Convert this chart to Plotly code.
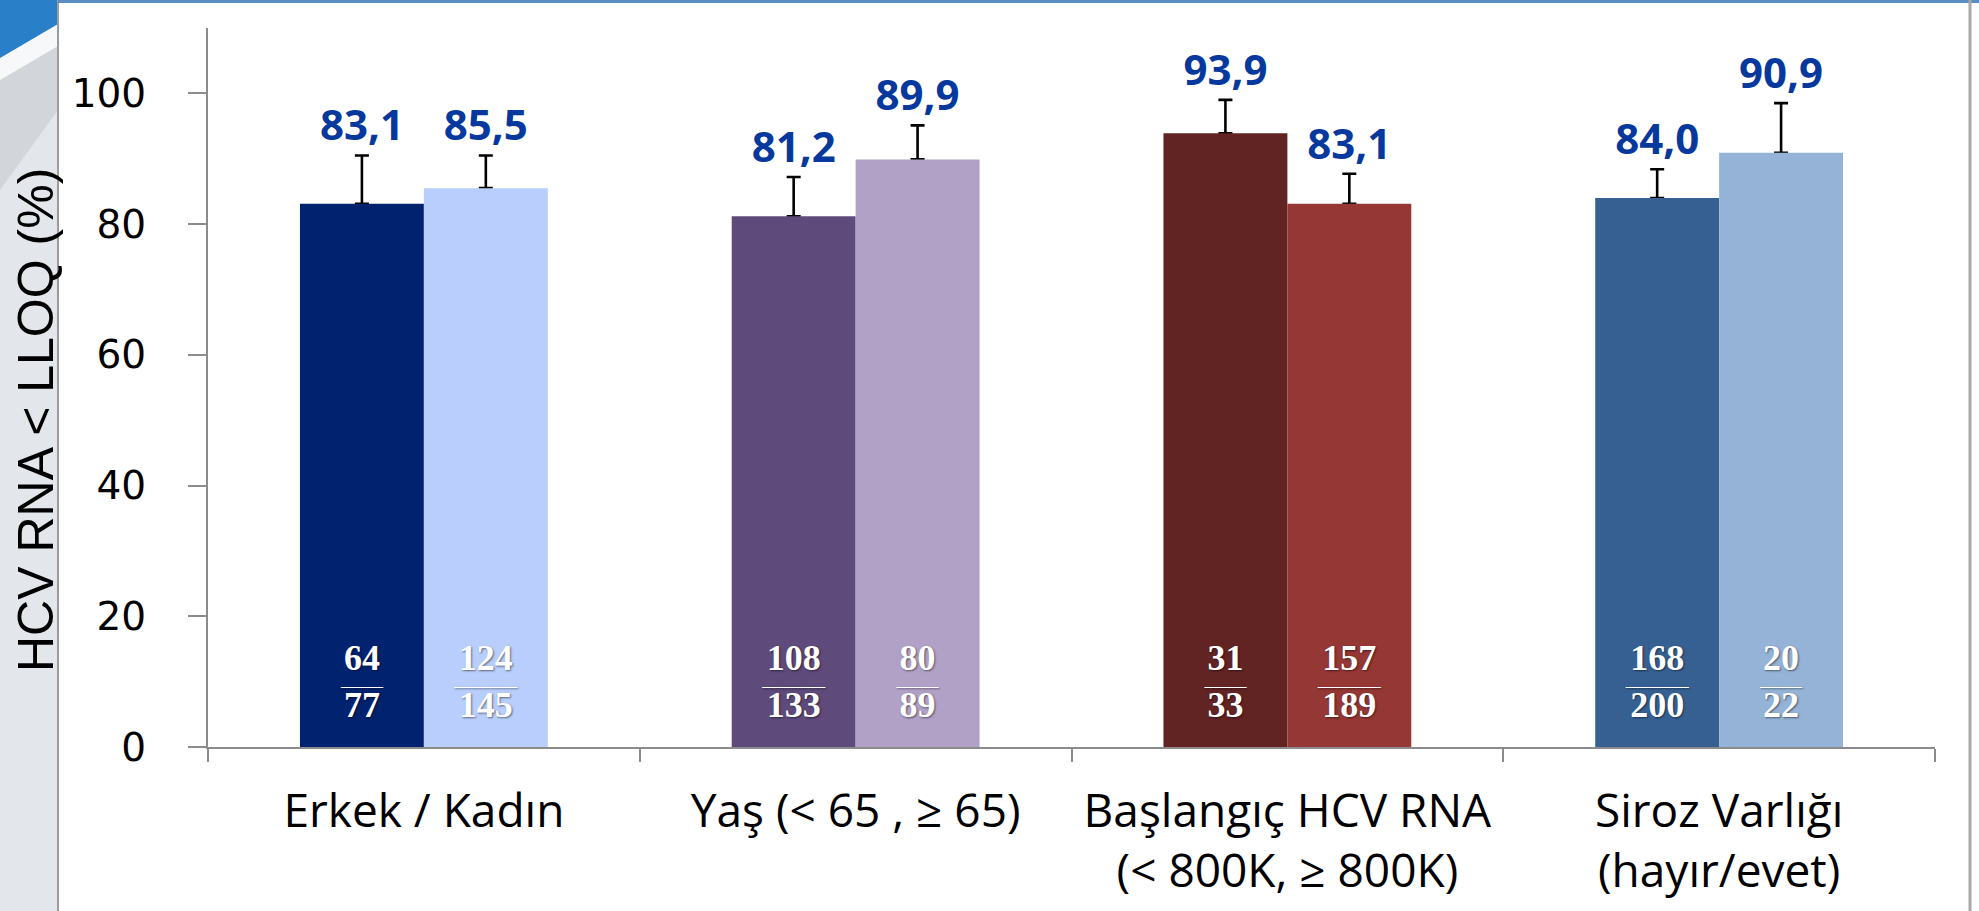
"""Bar chart: HCV RNA < LLOQ (%) by subgroup, with error bars and n/N counts."""

import plotly.graph_objects as go

# data
categories = [
    "Erkek / Kadın",
    "Yaş (&lt; 65 , ≥ 65)",
    "Başlangıç HCV RNA<br>(&lt; 800K, ≥ 800K)",
    "Siroz Varlığı<br>(hayır/evet)",
]
first_values = [83.1, 81.2, 93.9, 84.0]
second_values = [85.5, 89.9, 83.1, 90.9]
first_errors = [7.4, 6.0, 5.1, 4.4]
second_errors = [5.0, 5.2, 4.6, 7.6]
first_responders = [64, 108, 31, 168]
first_totals = [77, 133, 33, 200]
second_responders = [124, 80, 157, 20]
second_totals = [145, 89, 189, 22]
first_colors = ["#00226f", "#5e4a7b", "#622323", "#376092"]
second_colors = ["#b9cefc", "#b2a1c7", "#953735", "#95b3d7"]
y_ticks = [0, 20, 40, 60, 80, 100]

# canvas / plot area
W, H = 1979, 911
L, R, T, B = 208, 44, 28, 164
PW, PH = W - L - R, H - T - B

LABEL_BLUE = "#07389d"
AXIS_GREY = "#8c8c8c"


def px_x(x: float) -> float:
    """Pixel column -> paper x (used only for slide decoration)."""
    return (x - L) / PW


def px_y(y: float) -> float:
    """Pixel row -> paper y (used only for slide decoration)."""
    return (H - B - y) / PH


def fmt(v: float) -> str:
    return f"{v:.1f}".replace(".", ",")


def fraction(n: int, total: int) -> str:
    """n over N with a rule in between, as rich text."""
    digits = max(len(str(n)), len(str(total)))
    rule = "—" * digits
    return (
        f"<span style='font-size:36px;font-weight:bold'>{n}</span><br>"
        f"<span style='font-size:21px'>{rule}</span><br>"
        f"<span style='font-size:36px;font-weight:bold'>{total}</span><br>&nbsp;"
    )


def label_bars(values, errors, group):
    """Transparent bars up to the error-bar top; carry the whisker and the value label."""
    return go.Bar(
        x=categories,
        y=[v + e for v, e in zip(values, errors)],
        offsetgroup=group,
        marker=dict(color="rgba(0,0,0,0)", line=dict(width=0)),
        error_y=dict(
            type="data",
            symmetric=False,
            array=[0] * len(errors),
            arrayminus=errors,
            color="black",
            thickness=2.6,
            width=7,
        ),
        text=[fmt(v) for v in values],
        textposition="outside",
        outsidetextfont=dict(family="Open Sans", size=42, color=LABEL_BLUE, weight="bold"),
        cliponaxis=False,
        hoverinfo="skip",
        showlegend=False,
    )


def value_bars(values, colors, responders, totals, group):
    """Coloured bars with n/N written at the base."""
    return go.Bar(
        x=categories,
        y=values,
        offsetgroup=group,
        marker=dict(color=colors, line=dict(width=0)),
        text=[fraction(n, t) for n, t in zip(responders, totals)],
        textposition="inside",
        insidetextanchor="start",
        insidetextfont=dict(
            family="Liberation Serif",
            size=18,
            color="white",
            shadow="1px 1px 2px rgba(0,0,0,0.5)",
        ),
        hoverinfo="skip",
        showlegend=False,
    )


fig = go.Figure()
# whisker/label layers first so the real bars hide the whisker foot
fig.add_trace(label_bars(first_values, first_errors, "a"))
fig.add_trace(label_bars(second_values, second_errors, "b"))
fig.add_trace(value_bars(first_values, first_colors, first_responders, first_totals, "a"))
fig.add_trace(value_bars(second_values, second_colors, second_responders, second_totals, "b"))

# slide decoration: grey strip with blue swoosh on the left, frame lines
shapes = [
    dict(type="rect", xref="paper", yref="paper",
         x0=px_x(0), x1=px_x(58), y0=px_y(H), y1=px_y(0),
         fillcolor="#e3e6ea", line=dict(width=0), layer="below"),
    dict(type="path", xref="paper", yref="paper",
         path=f"M {px_x(0)},{px_y(80)} L {px_x(58)},{px_y(46)} L {px_x(58)},{px_y(110)} "
              f"L {px_x(0)},{px_y(190)} Z",
         fillcolor="#d2d5d9", line=dict(width=0), layer="below"),
    dict(type="path", xref="paper", yref="paper",
         path=f"M {px_x(0)},{px_y(58)} L {px_x(58)},{px_y(24)} L {px_x(58)},{px_y(46)} "
              f"L {px_x(0)},{px_y(80)} Z",
         fillcolor="#f7f8f9", line=dict(width=0), layer="below"),
    dict(type="path", xref="paper", yref="paper",
         path=f"M {px_x(0)},{px_y(0)} L {px_x(58)},{px_y(0)} L {px_x(58)},{px_y(24)} "
              f"L {px_x(0)},{px_y(58)} Z",
         fillcolor="#2a80c8", line=dict(width=0), layer="below"),
    dict(type="line", xref="paper", yref="paper",
         x0=px_x(58), x1=px_x(58), y0=px_y(H), y1=px_y(0),
         line=dict(color="#9c9c9c", width=2)),
    dict(type="line", xref="paper", yref="paper",
         x0=px_x(58), x1=px_x(W), y0=px_y(1.5), y1=px_y(1.5),
         line=dict(color="#5b8cc4", width=3)),
    dict(type="line", xref="paper", yref="paper",
         x0=px_x(1970), x1=px_x(1970), y0=px_y(H), y1=px_y(0),
         line=dict(color="#a8a8a8", width=3)),
]

fig.update_layout(
    width=W,
    height=H,
    margin=dict(l=L, r=R, t=T, b=B, autoexpand=False),
    paper_bgcolor="white",
    plot_bgcolor="white",
    barmode="group",
    bargap=0.426,
    bargroupgap=0,
    shapes=shapes,
    annotations=[
        dict(
            text="HCV RNA &lt; LLOQ (%)",
            xref="paper", yref="paper",
            x=px_x(36), y=px_y(420),
            xanchor="center", yanchor="middle",
            textangle=-90, showarrow=False,
            font=dict(family="Liberation Sans", size=50, color="black"),
        )
    ],
)

fig.update_xaxes(
    type="category",
    showline=True,
    linecolor=AXIS_GREY,
    linewidth=2,
    ticks="outside",
    tickson="boundaries",
    ticklen=13,
    tickwidth=2,
    tickcolor=AXIS_GREY,
    ticklabelstandoff=23,
    tickfont=dict(family="Open Sans", size=46, color="black"),
    showgrid=False,
    zeroline=False,
)
fig.update_yaxes(
    range=[0, 110],
    tickvals=y_ticks,
    showline=True,
    linecolor=AXIS_GREY,
    linewidth=2,
    ticks="outside",
    ticklen=18,
    tickwidth=2,
    tickcolor=AXIS_GREY,
    ticklabelstandoff=34,
    tickfont=dict(family="DejaVu Sans", size=39, color="black"),
    showgrid=False,
    zeroline=False,
)

# the page's default body margin would shift the figure by 8px
fig.write_html(
    "out.html",
    config={"displayModeBar": False},
    post_script="document.body.style.margin='0px';",
)
